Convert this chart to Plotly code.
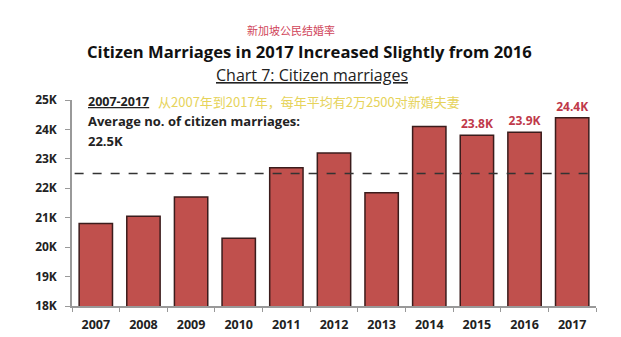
import plotly.graph_objects as go

years = ["2007", "2008", "2009", "2010", "2011", "2012", "2013", "2014", "2015", "2016", "2017"]
marriages_k = [20.8, 21.05, 21.7, 20.3, 22.7, 23.2, 21.85, 24.1, 23.8, 23.9, 24.4]
labelled = ["", "", "", "", "", "", "", "", "23.8K", "23.9K", "24.4K"]
average_k = 22.5
ytick_vals = [18, 19, 20, 21, 22, 23, 24, 25]
ytick_text = ["18K", "19K", "20K", "21K", "22K", "23K", "24K", "25K"]

FONT = "Open Sans"
RED = "#c0504d"

fig = go.Figure()
fig.add_trace(go.Bar(
    x=years, y=marriages_k, width=0.7,
    marker=dict(color=RED, line=dict(color="#3b1c1c", width=1.5)),
    text=labelled, textposition="outside",
    textfont=dict(family=FONT, size=12, color="#c0394a", weight="bold"),
    cliponaxis=False,
))

fig.add_shape(type="line", xref="paper", yref="y", x0=0.005, x1=1.0,
              y0=average_k, y1=average_k,
              line=dict(color="#333333", width=1.6, dash="dash"))

fig.update_layout(
    width=621, height=337,
    margin=dict(l=72, r=25, t=100, b=31),
    paper_bgcolor="white", plot_bgcolor="white",
    showlegend=False,
    font=dict(family=FONT, color="#222222"),
)
fig.update_xaxes(
    type="category", tickson="boundaries", ticks="outside", ticklen=4,
    tickcolor="#999999", showline=True, linecolor="#999999", linewidth=1.5,
    tickfont=dict(family=FONT, size=12.5, color="#222222", weight="bold"),
    ticklabelstandoff=6, automargin=False,
    showgrid=False,
)
fig.update_yaxes(
    range=[18, 25], tickvals=ytick_vals, ticktext=ytick_text,
    ticks="outside", ticklen=5, tickcolor="#999999",
    showline=True, linecolor="#999999", linewidth=1.5,
    tickfont=dict(family=FONT, size=12, color="#222222", weight="bold"),
    ticklabelstandoff=6, automargin=False,
    showgrid=False, zeroline=False,
)


def ypaper(py):
    # pixel y (from top) to paper coords; plot area top=100, bottom=306
    return (306 - py) / 206.0


def xpaper(px):
    return (px - 72) / (596 - 72)


titles = [
    dict(x=291, y=30, text="新加坡公民结婚率", size=11, color="#d0455a", family="Noto Sans CJK SC", weight="normal"),
    dict(x=309, y=51, text="Citizen Marriages in 2017 Increased Slightly from 2016", size=16.6, color="#111111", family=FONT, weight="bold"),
    dict(x=312, y=75, text="<u>Chart 7: Citizen marriages</u>", size=16, color="#222222", family=FONT, weight="normal"),
]
for a in titles:
    fig.add_annotation(xref="paper", yref="paper", x=xpaper(a["x"]), y=ypaper(a["y"]),
                       xanchor="center", yanchor="middle", text=a["text"], showarrow=False,
                       font=dict(family=a["family"], size=a["size"], color=a["color"], weight=a["weight"]))

fig.add_annotation(xref="paper", yref="paper", x=xpaper(86), y=ypaper(101), xanchor="left", yanchor="middle",
                   text="<u>2007-2017</u>", showarrow=False,
                   font=dict(family=FONT, size=12.5, color="#222222", weight="bold"))
fig.add_annotation(xref="paper", yref="paper", x=xpaper(156), y=ypaper(101), xanchor="left", yanchor="middle",
                   text="从2007年到2017年，每年平均有2万2500对新婚夫妻", showarrow=False,
                   font=dict(family="Noto Sans CJK SC", size=13, color="#e6d35a"))
fig.add_annotation(xref="paper", yref="paper", x=xpaper(86), y=ypaper(121), xanchor="left", yanchor="middle",
                   text="Average no. of citizen marriages:", showarrow=False,
                   font=dict(family=FONT, size=13, color="#222222", weight="bold"))
fig.add_annotation(xref="paper", yref="paper", x=xpaper(86), y=ypaper(141), xanchor="left", yanchor="middle",
                   text="22.5K", showarrow=False,
                   font=dict(family=FONT, size=13, color="#222222", weight="bold"))

fig.write_html("out.html")
